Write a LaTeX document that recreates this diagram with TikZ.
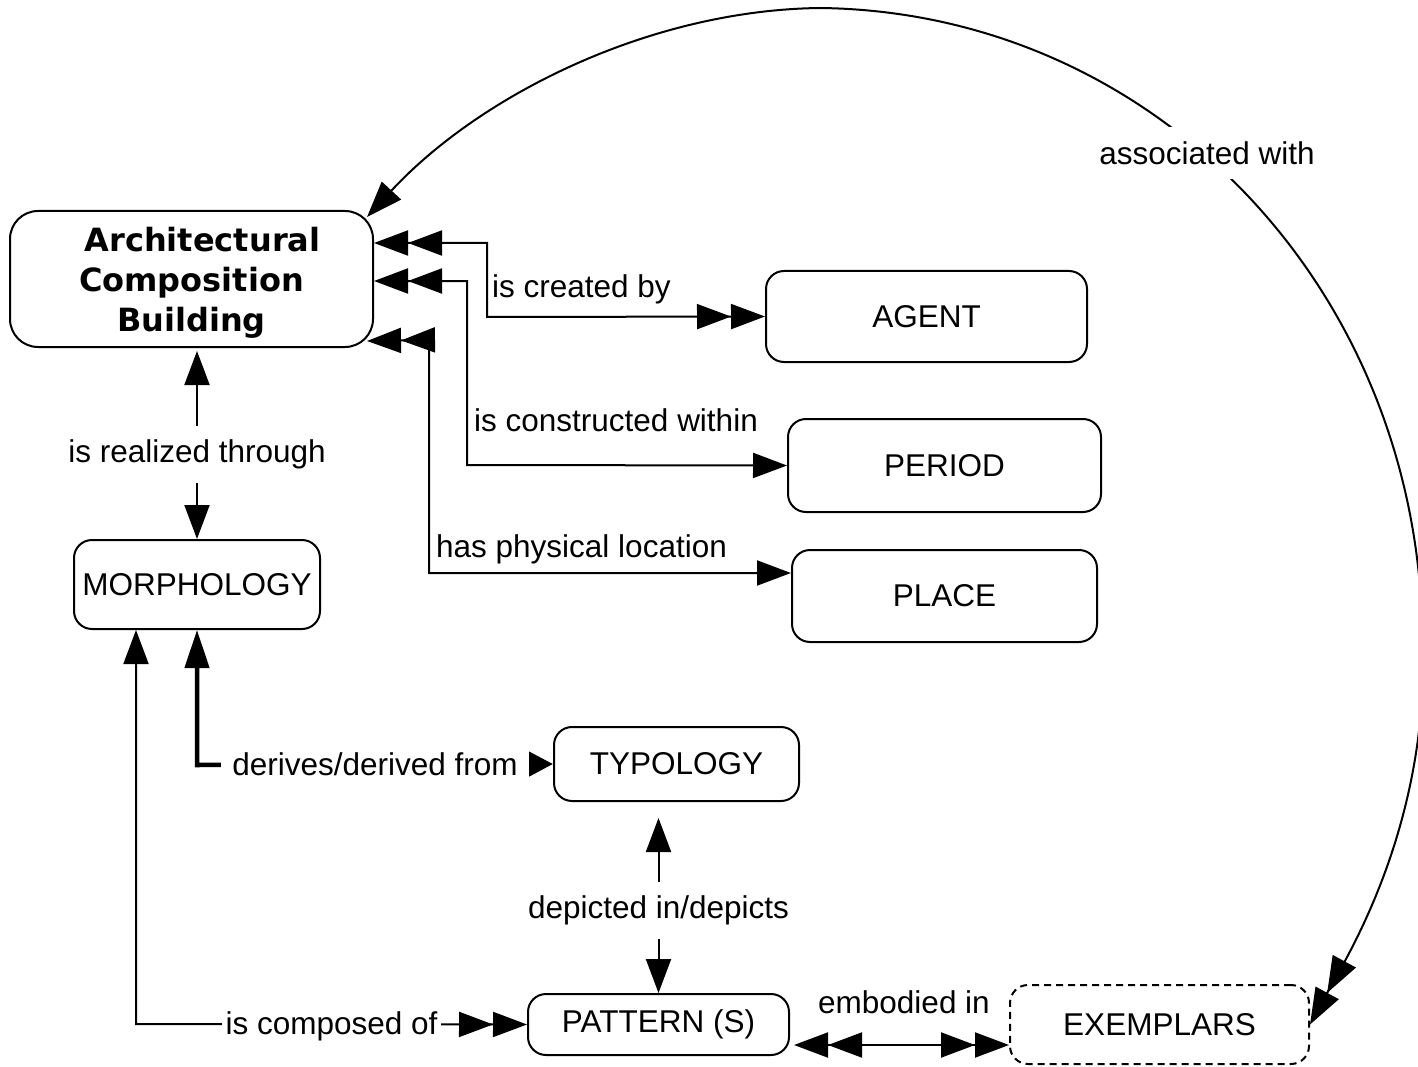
\documentclass[tikz,border=0pt]{standalone}
\usepackage{fontspec}
\setmainfont{Liberation Sans}
\newfontfamily\titlefont{DejaVu Sans}
\usetikzlibrary{arrows.meta}
\tikzset{
  box/.style={draw, line width=2pt, rounded corners=18pt, inner sep=0pt, align=center,
              font=\fontsize{31.5}{36}\selectfont},
  dashbox/.style={box, dash pattern=on 7pt off 5pt},
  conn/.style={line width=2pt},
  thickconn/.style={line width=4.5pt},
  lbl/.style={font=\fontsize{31.5}{36}\selectfont, inner sep=2pt},
  gaplbl/.style={lbl, fill=white},
}
\begin{document}
\begin{tikzpicture}[x=1pt,y=-1pt, >={Triangle[length=34pt,width=25pt]}]
\useasboundingbox (0,0) rectangle (1418,1067);

% nodes
\node[box, rounded corners=28pt, minimum width=363pt, minimum height=136pt] (acb) at (191.5,279) {};
\node[align=center, inner sep=0pt, font=\titlefont\bfseries\fontsize{32}{40}\selectfont] (acbt) at (191.5,283)
      {\hspace*{22pt}Architectural\\Composition\\Building};
\node[box, minimum width=321pt, minimum height=91pt] (agent) at (926.5,316.5) {AGENT};
\node[box, minimum width=313pt, minimum height=93pt] (period) at (944.5,465.5) {PERIOD};
\node[box, minimum width=305pt, minimum height=92pt] (place) at (944.5,596) {PLACE};
\node[box, minimum width=246pt, minimum height=89pt] (morph) at (197,584.5) {MORPHOLOGY};
\node[box, minimum width=245pt, minimum height=74pt] (typ) at (676.5,764) {TYPOLOGY};
\node[box, minimum width=261pt, minimum height=61pt] (pat) at (658.5,1024.5) {PATTERN (S)};
\node[dashbox, minimum width=299pt, minimum height=79pt] (ex) at (1159.5,1024.5) {EXEMPLARS};

% ACB -- AGENT
\draw[conn, <<->>] ([yshift=36pt]acb.east) -- (487,243) -- (487,317) -- (agent.west);
\node[lbl, anchor=west] (l1) at (490,289) {is created by};

% ACB -- PERIOD
\draw[conn, <<->] ([yshift=-2pt]acb.east) -- (467,281) -- (467,465) -- (period.west);
\node[lbl, anchor=west] (l2) at (472,420) {is constructed within};

% ACB -- PLACE
\draw[conn, <<->] ([xshift=-7pt,yshift=7pt]acb.south east) -- (429,340) -- (429,573) -- ([yshift=23pt]place.west);
\node[lbl, anchor=west] (l3) at (434,549) {has physical location};

% ACB -- MORPHOLOGY
\draw[conn, <->] ([yshift=-3pt]acb.south -| morph.north) --
   node[gaplbl, inner ysep=14pt, pos=0.55] (l4) {is realized through} (morph.north);

% MORPHOLOGY -- TYPOLOGY
\draw[thickconn, {Triangle[length=38pt,width=24pt]}-{Triangle[length=24pt,width=24pt]}]
   (morph.south) -- (197,765) -- node[gaplbl, inner xsep=11pt] (l5) {derives/derived from} (typ.west);

% MORPHOLOGY -- PATTERN
\draw[conn, <->>] ([xshift=-61pt]morph.south) -- (136,1024) --
   node[gaplbl, inner xsep=4pt, yshift=-2pt] (l6) {is composed of} (pat.west);

% TYPOLOGY -- PATTERN
\draw[conn, <->] ([yshift=-16pt]typ.south -| pat.north) --
   node[gaplbl, inner ysep=14pt, pos=0.53] (l7) {depicted in/depicts} (pat.north);

% PATTERN -- EXEMPLARS
\draw[conn, <<->>] ([xshift=4pt,yshift=-20.5pt]pat.east) -- ([yshift=-20.5pt]ex.west);
\node[lbl] (l8) at (904,1002) {embodied in};

% associated with (arc)
\draw[conn, {Triangle[length=36pt,width=26pt]}-{Triangle[length=36pt,width=26pt]Triangle[length=36pt,width=26pt]}]
  ([xshift=-7pt,yshift=-7pt]acb.north east) .. controls (480,95) and (650,10) .. (820,8)
  .. controls (1150,12) and (1410,280) .. (1422,620)
  .. controls (1435,820) and (1345,960) .. (ex.east);
\node[gaplbl, inner ysep=14pt] (l9) at (1207,153) {associated with};
\end{tikzpicture}
\end{document}
